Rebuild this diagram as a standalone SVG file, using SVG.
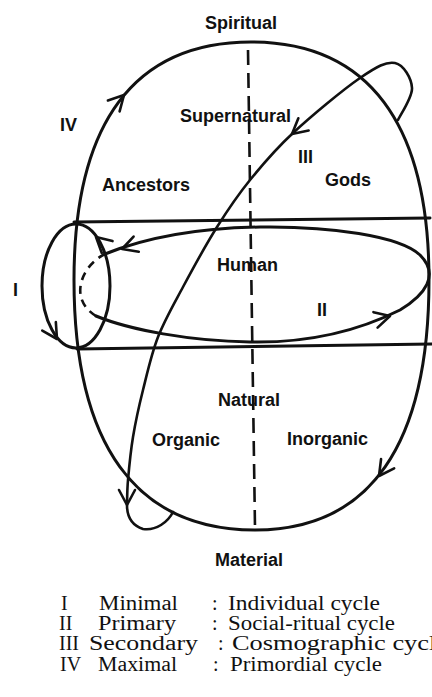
<svg xmlns="http://www.w3.org/2000/svg" xmlns:xlink="http://www.w3.org/1999/xlink" width="432" height="697" viewBox="0 0 432 697">
<style>
.ln{fill:none;stroke:#111;stroke-width:3;stroke-linecap:round;stroke-linejoin:round}
.thin{fill:none;stroke:#111;stroke-width:2.6;stroke-linecap:round}
.dash{fill:none;stroke:#111;stroke-width:2.6;stroke-dasharray:15 8}
.dash2{fill:none;stroke:#111;stroke-width:2.6;stroke-dasharray:8 6}
.ah{fill:none;stroke:#111;stroke-width:2.6;stroke-linecap:round;stroke-linejoin:round}
.lb{font-family:"Liberation Sans",Arial,sans-serif;font-weight:bold;font-size:18px;fill:#111}
.lg{font-family:"Liberation Serif","Times New Roman",serif;font-size:20px;fill:#111}
</style>
<defs>
<path id="ah" d="M-15,-8 L0,0 L-15,8"/>
</defs>
<rect width="432" height="697" fill="#fff"/>
<g id="connectors">
<g id="cycle-IV">
<path class="ln" d="M251,42 C368,42 429,123 429,280 C429,445 370,530 255,530 C136,530 74,445 74,280 C74,123 134,42 251,42 Z"/>
<use href="#ah" class="ah" transform="translate(124,95) rotate(-47)"/>
<use href="#ah" class="ah" transform="translate(379,476) rotate(125)"/>
</g>
<g id="band">
<path class="ln" d="M74,222 L430,218 M77,349 L432,344"/>
</g>
<g id="axis">
<path class="dash" d="M248,50 L255,528"/>
</g>
<g id="cycle-I">
<ellipse class="ln" cx="76" cy="286" rx="34" ry="62"/>
<use href="#ah" class="ah" transform="translate(96,237) rotate(-138)"/>
<use href="#ah" class="ah" transform="translate(57,339) rotate(58)"/>
</g>
<g id="cycle-II">
<path class="ln" d="M105,254 C150,236 200,228 260,227 C330,226 400,236 420,255 C440,275 425,295 400,310 C350,335 300,343 250,342 C190,341 130,330 96,316"/>
<path class="dash2" d="M96,316 C80,306 78,292 82,280 C86,268 95,259 105,254"/>
<use href="#ah" class="ah" transform="translate(122,249) rotate(161)"/>
<use href="#ah" class="ah" transform="translate(390,316) rotate(-15)"/>
</g>
<g id="cycle-III">
<path class="thin" d="M398,120 C400.3,114.7 412.5,97.5 412,88 C411.5,78.5 403.7,64.7 395,63 C386.3,61.3 377,66.3 360,78 C343,89.7 311.3,116 293,133 C274.7,150 262.7,164.3 250,180 C237.3,195.7 228.2,209.2 217,227 C205.8,244.8 192.8,268.7 183,287 C173.2,305.3 164.7,319.8 158,337 C151.3,354.2 147.2,373.3 143,390 C138.8,406.7 135.5,422 133,437 C130.5,452 129,468.7 128,480 C127,491.3 127.2,500.8 127,505 C127,512 128,524 143,529 C156,531 168,522 173,512"/>
<use href="#ah" class="ah" transform="translate(292,134) rotate(140)"/>
<use href="#ah" class="ah" transform="translate(127,505) rotate(90)"/>
</g>
</g>
<g id="labels">
<g id="n-spiritual"><text class="lb" x="205" y="29">Spiritual</text></g>
<g id="n-iv"><text class="lb" x="60" y="131">IV</text></g>
<g id="n-supernatural"><text class="lb" x="180" y="122">Supernatural</text></g>
<g id="n-iii"><text class="lb" x="298" y="163">III</text></g>
<g id="n-gods"><text class="lb" x="325" y="186">Gods</text></g>
<g id="n-ancestors"><text class="lb" x="102" y="191">Ancestors</text></g>
<g id="n-human"><text class="lb" x="217" y="271">Human</text></g>
<g id="n-i"><text class="lb" x="13" y="296">I</text></g>
<g id="n-ii"><text class="lb" x="317" y="316">II</text></g>
<g id="n-natural"><text class="lb" x="218" y="406">Natural</text></g>
<g id="n-organic"><text class="lb" x="152" y="446">Organic</text></g>
<g id="n-inorganic"><text class="lb" x="287" y="445">Inorganic</text></g>
<g id="n-material"><text class="lb" x="215" y="566">Material</text></g>
</g>
<g id="legend">
<text class="lg" x="61" y="610">I</text>
<text class="lg" x="99" y="610" textLength="79" lengthAdjust="spacingAndGlyphs">Minimal</text>
<text class="lg" x="212" y="610">:</text>
<text class="lg" x="228" y="610" textLength="152" lengthAdjust="spacingAndGlyphs">Individual cycle</text>
<text class="lg" x="59" y="630">II</text>
<text class="lg" x="98" y="630" textLength="78" lengthAdjust="spacingAndGlyphs">Primary</text>
<text class="lg" x="212" y="630">:</text>
<text class="lg" x="228" y="630" textLength="167" lengthAdjust="spacingAndGlyphs">Social-ritual cycle</text>
<text class="lg" x="59" y="650">III</text>
<text class="lg" x="89" y="650" textLength="109" lengthAdjust="spacingAndGlyphs">Secondary</text>
<text class="lg" x="218" y="650">:</text>
<text class="lg" x="232" y="650" textLength="216" lengthAdjust="spacingAndGlyphs">Cosmographic cycle</text>
<text class="lg" x="60" y="671">IV</text>
<text class="lg" x="98" y="671" textLength="79" lengthAdjust="spacingAndGlyphs">Maximal</text>
<text class="lg" x="213" y="671">:</text>
<text class="lg" x="230" y="671" textLength="152" lengthAdjust="spacingAndGlyphs">Primordial cycle</text>
</g>
</svg>
